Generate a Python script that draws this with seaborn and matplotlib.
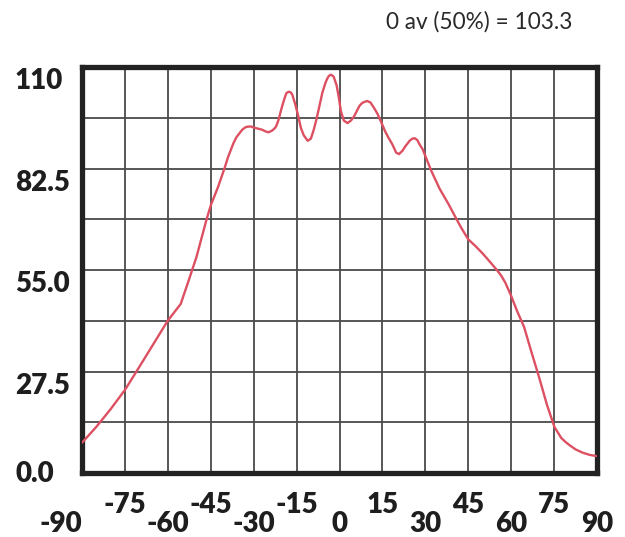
import matplotlib
matplotlib.use("Agg")
import matplotlib.pyplot as plt
import seaborn as sns
import pandas as pd

# ---- data ----
angle = [-90, -85, -80, -75, -70, -65, -60, -55.5, -53, -50, -46.5, -45, -42.4,
         -40, -39, -37.1, -36, -35, -34, -33, -32.4, -31, -30, -28, -27, -26, -24.8,
         -23.5, -22.5, -22, -21.3, -20.7, -20, -19, -18.5, -17.7, -17, -16.5, -15.5,
         -14.5, -13.5, -12.5, -11.1, -10, -9, -8, -7, -6, -5, -4.5, -3.8, -3.1, -2.5,
         -2, -1, -0.3, 0.5, 1.5, 2.8, 4, 5, 6, 7, 8, 9.6, 10.8, 12, 13.3, 14.5, 16, 17,
         18.5, 19.8, 20.8, 22, 23, 24.5, 25.5, 26.3, 27.2, 28, 29, 30.1, 32, 35, 38,
         40.4, 42.5, 45, 47.5, 50, 52.5, 55, 56.5, 58, 60.1, 62, 64.5, 67, 69.7, 72.5,
         75.1, 77.5, 79, 80.3, 82.5, 85, 87.5, 89.7]
intensity = [8.2, 12.5, 17.3, 22.5, 28.7, 35.0, 41.3, 45.8, 51.5, 58.5, 68.6, 72.5, 77.6,
             83.0, 85.5, 89.3, 91.0, 92.0, 93.0, 93.6, 93.8, 93.9, 93.6, 93.2, 93.0, 92.6, 92.3,
             92.8, 93.5, 94.2, 95.7, 97.5, 99.5, 102.0, 103.0, 103.3, 103.1, 102.5, 100.0,
             97.0, 93.5, 91.5, 90.0, 90.6, 93.0, 96.0, 99.5, 103.0, 105.5, 106.5, 107.5, 107.9, 107.7,
             107.3, 105.0, 102.0, 98.0, 95.5, 94.8, 95.5, 96.5, 98.0, 99.5, 100.3, 100.8, 100.4, 99.0,
             97.3, 95.2, 92.5, 91.0, 89.0, 86.8, 86.4, 87.3, 88.5, 90.0, 90.6, 90.7, 90.2, 89.0,
             87.8, 85.7, 82.0, 77.0, 73.0, 69.5, 66.5, 63.3, 61.5, 59.5, 57.3, 55.0, 53.5, 51.5,
             47.8, 44.0, 39.6, 33.0, 26.1, 18.5, 12.5, 9.5, 8.4, 7.6, 6.4, 5.5, 4.9, 4.6]

x_major = [-90, -60, -30, 0, 30, 60, 90]
x_minor = [-75, -45, -15, 15, 45, 75]
y_ticks = [0, 27.5, 55, 82.5, 110]
y_labels = ["0.0", "27.5", "55.0", "82.5", "110"]
y_minor = [13.75, 41.25, 68.75, 96.25]
title = "0 av (50%) = 103.3"

sns.set_style("white")
plt.rcParams['font.family'] = ['Lato', 'DejaVu Sans']

fig = plt.figure(figsize=(6.25, 5.37), dpi=100)
ax = fig.add_axes([82 / 625, (537 - 473) / 537, 515 / 625, 406 / 537])

df = pd.DataFrame({"angle": angle, "value": intensity})
sns.lineplot(data=df, x="angle", y="value", ax=ax, color="#dc5062",
             linewidth=1.7, zorder=3)

ax.set_xlim(-90, 90)
ax.set_ylim(0, 110)
ax.set_xticks(x_major)
ax.set_xticks(x_minor, minor=True)
ax.set_yticks(y_ticks)
ax.set_yticks(y_minor, minor=True)
ax.set_xticklabels([])
ax.set_yticklabels([])
ax.tick_params(which='both', length=0)
ax.set_xlabel("")
ax.set_ylabel("")
ax.grid(True, which='both', color='#4a4a4a', linewidth=1.3, zorder=1)
ax.set_axisbelow(True)
for sp in ax.spines.values():
    sp.set_visible(True)
    sp.set_color('#222222')
    sp.set_linewidth(3.8)

lab_kw = dict(fontsize=20, fontweight='heavy', color='#1e1e1e', clip_on=False)

# x labels, staggered rows
xt = ax.get_xaxis_transform()
for v in x_major:
    ax.text(v, -0.145, str(v), transform=xt, va='baseline',
            ha='right' if v == -90 else 'center', **lab_kw)
for v in x_minor:
    ax.text(v, -0.0985, str(v), transform=xt, va='baseline', ha='center', **lab_kw)

# y labels, left-aligned
yt = ax.get_yaxis_transform()
for v, s in zip(y_ticks, y_labels):
    yy = -2.4 if v == 0 else v - 6.0
    ax.text(-67 / 515, yy, s, transform=yt, va='baseline', ha='left', **lab_kw)

fig.text(572 / 625, 1 - 28.3 / 537, title, ha='right', va='baseline',
         fontsize=16.3, color='#2a2a2a')

fig.savefig("out.png", dpi=100)
